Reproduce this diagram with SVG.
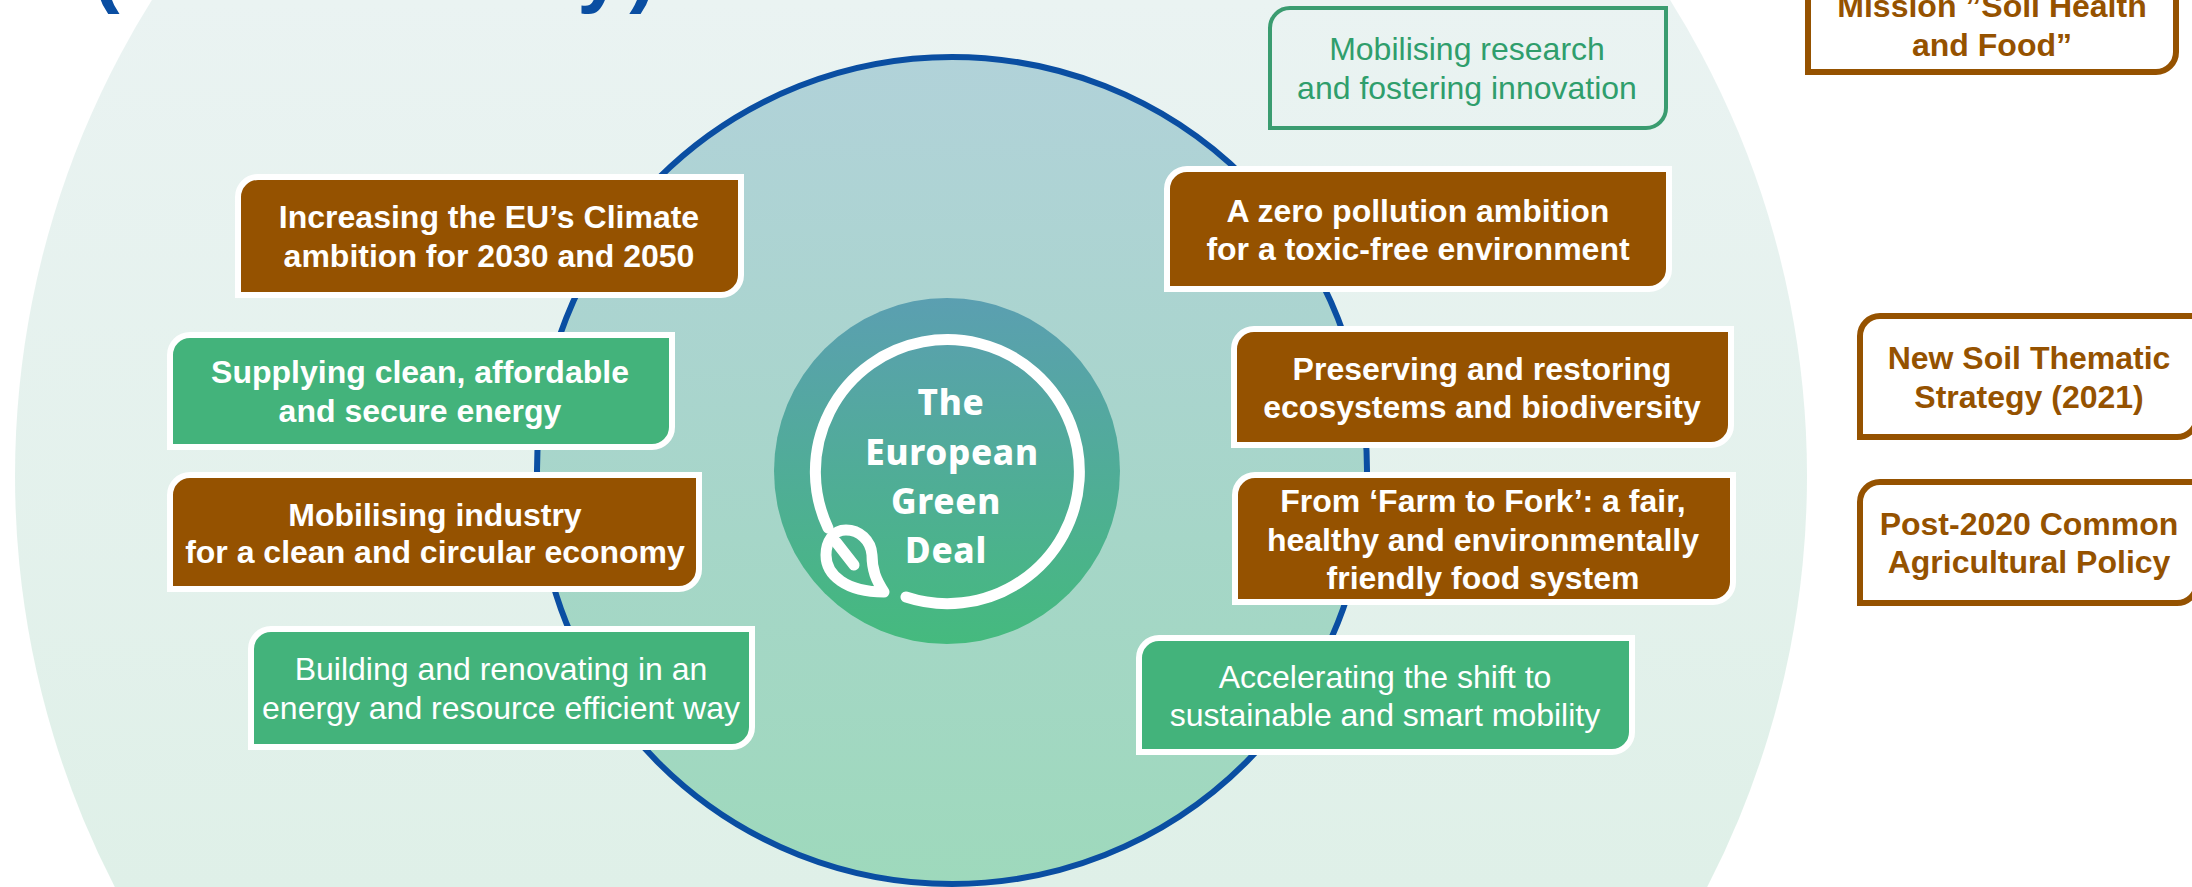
<svg xmlns="http://www.w3.org/2000/svg" width="2192" height="887" viewBox="0 0 2192 887">
<style>
text{font-family:"Liberation Sans",Arial,sans-serif;text-anchor:middle;font-size:32px}
.b{font-weight:700}
.w{fill:#fff}
.br{fill:#955200}
.gt{fill:#2f9e6c}
.fb{fill:#955200;stroke:#fff;stroke-width:6}
.fg{fill:#43b37b;stroke:#fff;stroke-width:6}
.ob{fill:#fff;stroke:#955200;stroke-width:6}
.og{fill:none;stroke:#3a9c70;stroke-width:4}
.ring{fill:none;stroke:#fff;stroke-width:11;stroke-linecap:round;stroke-linejoin:round}
.deal{font-family:"Noto Sans",sans-serif;font-weight:800;font-size:35px;fill:#fff;letter-spacing:.7px}
.title{font-size:82px;font-weight:700;fill:#0a4ea2}
</style>
<defs>
<linearGradient id="bg" gradientUnits="userSpaceOnUse" x1="0" y1="0" x2="0" y2="887"><stop offset="0" stop-color="#eaf3f2"/><stop offset="1" stop-color="#dff0e8"/></linearGradient>
<linearGradient id="mid" x1="0" y1="0" x2="0" y2="1"><stop offset="0" stop-color="#b1d2d9"/><stop offset="1" stop-color="#9ed9bc"/></linearGradient>
<linearGradient id="core" x1="0" y1="0" x2="0" y2="1"><stop offset="0" stop-color="#5b9fb1"/><stop offset="1" stop-color="#45ba7e"/></linearGradient>
</defs>
<g id="background">
<circle cx="911" cy="476" r="896" fill="url(#bg)"/>
<ellipse cx="952" cy="470.5" rx="415" ry="413.5" fill="url(#mid)" stroke="#0a4ea2" stroke-width="6"/>
</g>
<g id="title-fragment">
<text class="title" x="106" y="-3">(</text>
<text class="title" x="600" y="-3">y</text>
<text class="title" x="643" y="-3">)</text>
</g>
<g id="connectors"></g>
<g id="green-deal">
<circle cx="947" cy="471" r="173" fill="url(#core)"/>
<path class="ring" d="M906 597A132 132 0 1 0 828 528"/>
<path class="ring" d="M884 592C876 580 872 570 872 555C871 540 859 530 846 530C833 530 826 542 826 555C826 575 846 592 884 592Z"/>
<path class="ring" d="M836 542L854 565"/>
<text class="deal" x="951" y="415">The</text>
<text class="deal" x="952" y="465">European</text>
<text class="deal" x="946" y="514">Green</text>
<text class="deal" x="946" y="563">Deal</text>
</g>
<g id="climate">
<path class="fb" d="M258 177H741V275A20 20 0 0 1 721 295H238V197A20 20 0 0 1 258 177Z"/>
<text class="b w" x="489" y="228">Increasing the EU’s Climate</text>
<text class="b w" x="489" y="267">ambition for 2030 and 2050</text>
</g>
<g id="energy">
<path class="fg" d="M190 335H672V427A20 20 0 0 1 652 447H170V355A20 20 0 0 1 190 335Z"/>
<text class="b w" x="420" y="383">Supplying clean, affordable</text>
<text class="b w" x="420" y="422">and secure energy</text>
</g>
<g id="industry">
<path class="fb" d="M190 475H699V569A20 20 0 0 1 679 589H170V495A20 20 0 0 1 190 475Z"/>
<text class="b w" x="435" y="526">Mobilising industry</text>
<text class="b w" x="435" y="563">for a clean and circular economy</text>
</g>
<g id="building">
<path class="fg" d="M271 629H752V727A20 20 0 0 1 732 747H251V649A20 20 0 0 1 271 629Z"/>
<text class="w" x="501" y="680">Building and renovating in an</text>
<text class="w" x="501" y="719">energy and resource efficient way</text>
</g>
<g id="research">
<path class="og" d="M1290 8H1666V108A20 20 0 0 1 1646 128H1270V28A20 20 0 0 1 1290 8Z"/>
<text class="gt" x="1467" y="60">Mobilising research</text>
<text class="gt" x="1467" y="99">and fostering innovation</text>
</g>
<g id="zero-pollution">
<path class="fb" d="M1187 169H1669V269A20 20 0 0 1 1649 289H1167V189A20 20 0 0 1 1187 169Z"/>
<text class="b w" x="1418" y="222">A zero pollution ambition</text>
<text class="b w" x="1418" y="260">for a toxic-free environment</text>
</g>
<g id="ecosystems">
<path class="fb" d="M1254 329H1731V425A20 20 0 0 1 1711 445H1234V349A20 20 0 0 1 1254 329Z"/>
<text class="b w" x="1482" y="380">Preserving and restoring</text>
<text class="b w" x="1482" y="418">ecosystems and biodiversity</text>
</g>
<g id="farm-to-fork">
<path class="fb" d="M1255 475H1733V582A20 20 0 0 1 1713 602H1235V495A20 20 0 0 1 1255 475Z"/>
<text class="b w" x="1483" y="512">From ‘Farm to Fork’: a fair,</text>
<text class="b w" x="1483" y="551">healthy and environmentally</text>
<text class="b w" x="1483" y="589">friendly food system</text>
</g>
<g id="mobility">
<path class="fg" d="M1159 638H1632V732A20 20 0 0 1 1612 752H1139V658A20 20 0 0 1 1159 638Z"/>
<text class="w" x="1385" y="688">Accelerating the shift to</text>
<text class="w" x="1385" y="726">sustainable and smart mobility</text>
</g>
<g id="mission">
<path class="ob" d="M1828 -60H2176V52A20 20 0 0 1 2156 72H1808V-40A20 20 0 0 1 1828 -60Z"/>
<text class="b br" x="1992" y="17">Mission ”Soil Health</text>
<text class="b br" x="1992" y="56">and Food”</text>
</g>
<g id="soil-strategy">
<path class="ob" d="M1880 316H2197V417A20 20 0 0 1 2177 437H1860V336A20 20 0 0 1 1880 316Z"/>
<text class="b br" x="2029" y="369">New Soil Thematic</text>
<text class="b br" x="2029" y="408">Strategy (2021)</text>
</g>
<g id="cap">
<path class="ob" d="M1880 482H2197V583A20 20 0 0 1 2177 603H1860V502A20 20 0 0 1 1880 482Z"/>
<text class="b br" x="2029" y="535">Post-2020 Common</text>
<text class="b br" x="2029" y="573">Agricultural Policy</text>
</g>
</svg>
